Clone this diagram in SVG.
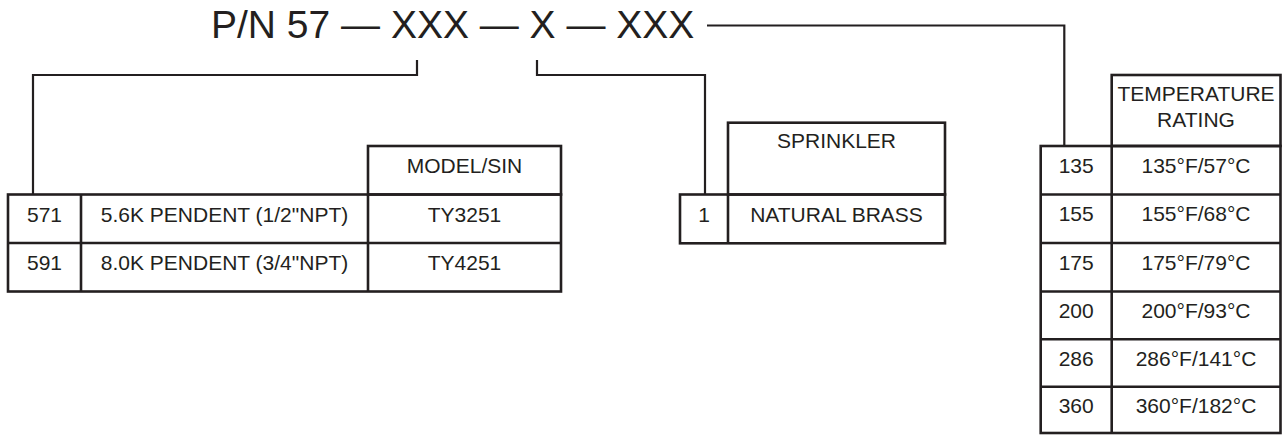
<svg xmlns="http://www.w3.org/2000/svg" width="1285" height="435" viewBox="0 0 1285 435">
<style>
text{font-family:"Liberation Sans",Arial,Helvetica,sans-serif;fill:#231f20}
.t{font-size:21px;text-anchor:middle}
.title{font-size:39px}
.box{fill:none;stroke:#231f20;stroke-width:2.6}
.conn{fill:none;stroke:#231f20;stroke-width:2.2}
</style>
<rect width="1285" height="435" fill="#fff"/>
<g id="title">
<text class="title" x="211" y="37.5">P/N 57 — XXX — X — XXX</text>
</g>
<g id="connectors">
<path class="conn" d="M417,60 V75 H33 V194.5"/>
<path class="conn" d="M537,60 V75 H705 V194.5"/>
<path class="conn" d="M707,25.5 H1064.3 V146"/>
</g>
<g id="model-table">
<rect class="box" x="368" y="146" width="193" height="48.5"/>
<rect class="box" x="8" y="194.5" width="553" height="97"/>
<line class="box" x1="8" y1="243" x2="561" y2="243"/>
<line class="box" x1="81" y1="194.5" x2="81" y2="291.5"/>
<line class="box" x1="368" y1="194.5" x2="368" y2="291.5"/>
<text class="t" x="464.5" y="173.3">MODEL/SIN</text>
<text class="t" x="44.5" y="221.5">571</text>
<text class="t" x="224.5" y="221.5">5.6K PENDENT (1/2"NPT)</text>
<text class="t" x="464.5" y="221.5">TY3251</text>
<text class="t" x="44.5" y="269.5">591</text>
<text class="t" x="224.5" y="269.5">8.0K PENDENT (3/4"NPT)</text>
<text class="t" x="464.5" y="269.5">TY4251</text>
</g>
<g id="finish-table">
<rect class="box" x="728" y="122.7" width="217" height="71.8"/>
<rect class="box" x="680" y="194.5" width="265" height="48.8"/>
<line class="box" x1="728" y1="194.5" x2="728" y2="243.3"/>
<text class="t" x="836.5" y="148.3">SPRINKLER</text>
<text class="t" x="704" y="221.5">1</text>
<text class="t" x="836.5" y="221.5">NATURAL BRASS</text>
</g>
<g id="temp-table">
<rect class="box" x="1111.7" y="75" width="168.8" height="71"/>
<rect class="box" x="1040.7" y="146" width="239.8" height="287"/>
<line class="box" x1="1111.7" y1="146" x2="1111.7" y2="433"/>
<line class="box" x1="1040.7" y1="194.5" x2="1280.5" y2="194.5"/>
<line class="box" x1="1040.7" y1="243" x2="1280.5" y2="243"/>
<line class="box" x1="1040.7" y1="291.5" x2="1280.5" y2="291.5"/>
<line class="box" x1="1040.7" y1="339.3" x2="1280.5" y2="339.3"/>
<line class="box" x1="1040.7" y1="386.7" x2="1280.5" y2="386.7"/>
<text class="t" x="1196" y="100.7">TEMPERATURE</text>
<text class="t" x="1196" y="126.7">RATING</text>
<text class="t" x="1076.2" y="172.7">135</text>
<text class="t" x="1196" y="172.7">135°F/57°C</text>
<text class="t" x="1076.2" y="221">155</text>
<text class="t" x="1196" y="221">155°F/68°C</text>
<text class="t" x="1076.2" y="269.5">175</text>
<text class="t" x="1196" y="269.5">175°F/79°C</text>
<text class="t" x="1076.2" y="317.8">200</text>
<text class="t" x="1196" y="317.8">200°F/93°C</text>
<text class="t" x="1076.2" y="365.5">286</text>
<text class="t" x="1196" y="365.5">286°F/141°C</text>
<text class="t" x="1076.2" y="413">360</text>
<text class="t" x="1196" y="413">360°F/182°C</text>
</g>
</svg>
